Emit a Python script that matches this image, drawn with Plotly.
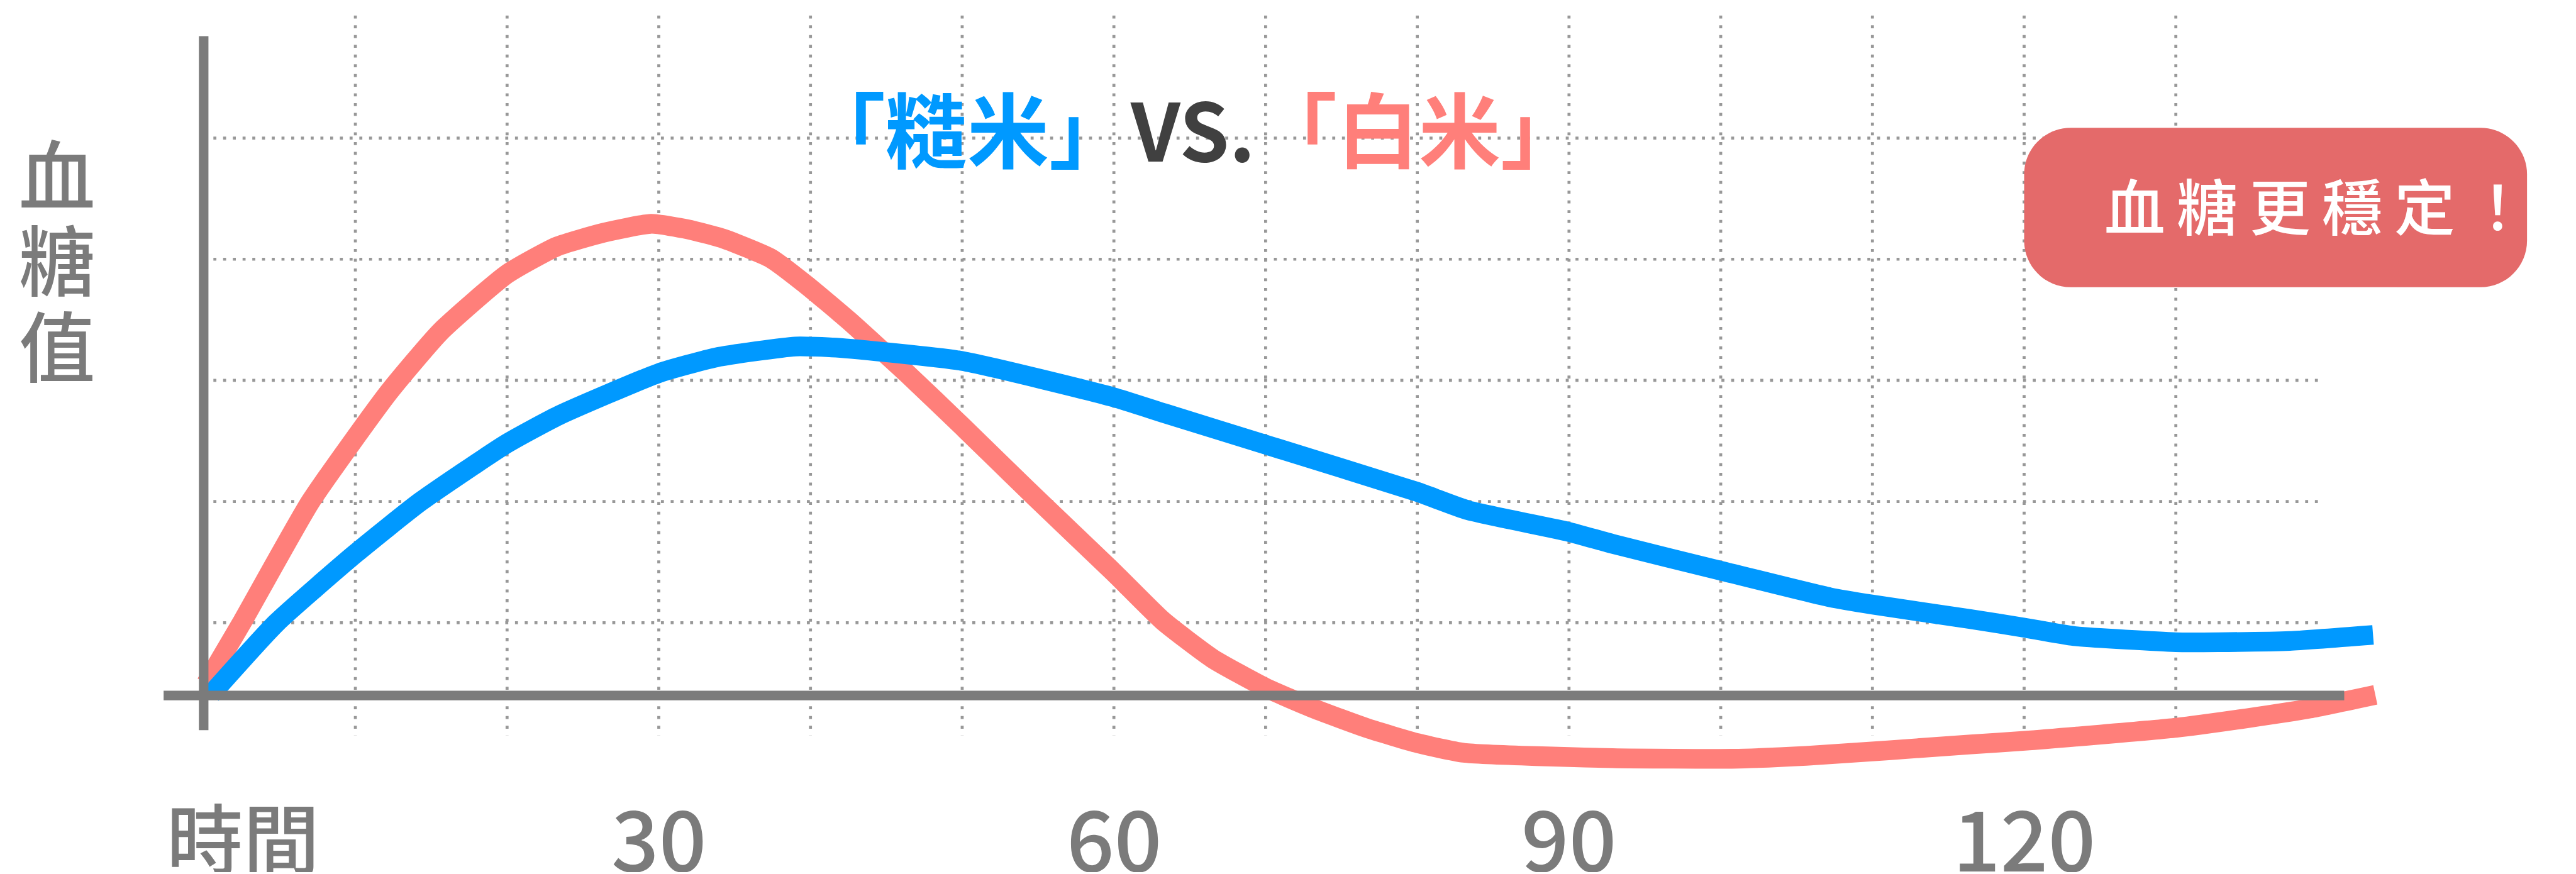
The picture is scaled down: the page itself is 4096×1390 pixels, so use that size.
import plotly.graph_objects as go

S = 0.949  # output scale

# ---------------- data (minutes, relative blood-sugar units) ----------------
white_x = [0.16, 2.56, 7.05, 12.2, 15.63, 20.0, 23.27, 26.34, 29.49, 31.89, 34.29, 37.4,
           39.72, 42.48, 46.42, 50.04, 54.69, 60.04, 63.23, 66.5, 70.0, 73.19, 76.73, 80.04,
           83.07, 92.87, 100.75, 105.63, 116.5, 120.04, 130.04, 134.72, 138.82, 143.15]
white_y = [0.99, 6.11, 16.01, 25.02, 30.05, 34.78, 37.04, 38.18, 38.92, 38.47, 37.68, 36.06,
           33.89, 30.99, 26.5, 22.17, 16.5, 10.1, 6.16, 3.05, 0.64, -1.08, -2.71, -3.94,
           -4.73, -5.17, -5.22, -4.98, -4.04, -3.74, -2.66, -1.87, -1.08, 0.05]

brown_x = [0.5, 4.8, 10.0, 14.3, 20.0, 23.4, 30.0, 33.8, 39.0, 41.7, 50.0, 60.0, 63.3, 70.0,
           80.0, 83.3, 90.0, 92.9, 100.0, 107.2, 110.0, 116.5, 120.0, 123.3, 130.0, 132.8,
           137.5, 143.0]
brown_y = [0.1, 6.0, 11.7, 16.0, 20.8, 23.1, 26.6, 27.9, 28.8, 28.7, 27.6, 24.6, 23.3, 20.7,
           16.8, 15.3, 13.5, 12.5, 10.3, 8.1, 7.5, 6.3, 5.6, 4.9, 4.4, 4.4,
           4.5, 5.0]

x_tick_vals = [30, 60, 90, 120]
x_tick_text = ["30", "60", "90", "120"]
grid_x = [10, 20, 30, 40, 50, 60, 70, 80, 90, 100, 110, 120, 130]
grid_y = [6, 16, 26, 36, 46]

title_brown = "「糙米」"
title_vs = "VS."
title_white = "「白米」"
y_label_chars = ["血", "糖", "值"]
x_label = "時間"
badge_text = "血糖更穩定！"

# ---------------- colours ----------------
BLUE = "#0099FF"
RED = "#FF7F7A"
GRAY = "#7B7B7B"
GRID = "#989898"
BADGE = "#E46A6A"
DARK = "#404040"

CJK = "Noto Sans CJK TC"
CJK_JP = "Noto Sans CJK JP"

fig = go.Figure()
fig.add_trace(go.Scatter(x=white_x, y=white_y, mode="lines",
                         line=dict(color=RED, width=33 * S, shape="spline", smoothing=0.5),
                         hoverinfo="skip", showlegend=False))
fig.add_trace(go.Scatter(x=brown_x, y=brown_y, mode="lines",
                         line=dict(color=BLUE, width=33 * S, shape="spline", smoothing=0.5),
                         hoverinfo="skip", showlegend=False))

shapes = []
dot = dict(color=GRID, width=5 * S, dash=f"{5 * S:.2f}px,{11.3 * S:.2f}px")
for gx in grid_x:
    shapes.append(dict(type="line", layer="below", x0=gx, x1=gx, y0=56.1, y1=-3.3,
                       xref="x", yref="y", line=dot))
for gy in grid_y:
    shapes.append(dict(type="line", layer="below", x0=0, x1=139.6, y0=gy, y1=gy,
                       xref="x", yref="y", line=dot))

# axes
shapes.append(dict(type="line", layer="above", x0=-2.64, x1=141.1, y0=0, y1=0,
                   line=dict(color=GRAY, width=16 * S)))
shapes.append(dict(type="line", layer="above", x0=0, x1=0, y0=54.4, y1=-2.86,
                   line=dict(color=GRAY, width=16 * S)))

# badge (rounded rectangle)
bx0, bx1, by0, by1 = 120.0, 153.15, 33.69, 46.85
rx, ry = 78 / 25.4, 78 / 20.3
k = 0.5523
path = (f"M {bx0 + rx},{by1} L {bx1 - rx},{by1} "
        f"C {bx1 - rx + k * rx},{by1} {bx1},{by1 - ry + k * ry} {bx1},{by1 - ry} "
        f"L {bx1},{by0 + ry} "
        f"C {bx1},{by0 + ry - k * ry} {bx1 - rx + k * rx},{by0} {bx1 - rx},{by0} "
        f"L {bx0 + rx},{by0} "
        f"C {bx0 + rx - k * rx},{by0} {bx0},{by0 + ry - k * ry} {bx0},{by0 + ry} "
        f"L {bx0},{by1 - ry} "
        f"C {bx0},{by1 - ry + k * ry} {bx0 + rx - k * rx},{by1} {bx0 + rx},{by1} Z")
shapes.append(dict(type="path", layer="above", path=path, xref="x", yref="y",
                   fillcolor=BADGE, line=dict(width=0)))

annotations = []
# x tick labels
for xv, tx in zip(x_tick_vals, x_tick_text):
    annotations.append(dict(x=xv, y=-11.5, text=tx, showarrow=False, xanchor="center",
                            yanchor="middle", height=118, valign="middle",
                            font=dict(family=CJK, size=140 * S, color=GRAY, weight=500)))
annotations.append(dict(x=2.6, y=-11.5, text=x_label, showarrow=False, xanchor="center",
                        yanchor="middle", height=118, valign="middle",
                        font=dict(family=CJK, size=128 * S, color=GRAY, weight=500)))
# y label (vertical characters)
for ch, yy in zip(y_label_chars, [43.3, 36.2, 29.1]):
    annotations.append(dict(x=-9.69, y=yy, text=ch, showarrow=False, xanchor="center",
                            yanchor="middle", height=128, valign="middle",
                            font=dict(family=CJK, size=128 * S, color=GRAY, weight=500)))
# title
title_html = (f"<span style='color:{BLUE}'>{title_brown}</span>"
              f"<span style='color:{DARK};font-family:{CJK};font-size:{134 * S:.1f}px'>{title_vs}</span>"
              f"<span style='color:{RED}'>{title_white}</span>")
annotations.append(dict(x=65.2, y=47.0, text=title_html, showarrow=False, xanchor="center",
                        yanchor="middle",
                        font=dict(family=CJK_JP, size=137 * S, color=BLUE, weight=700)))
# badge text, one character per cell
badge_x0, badge_pitch = 127.3, 4.78
for i, ch in enumerate(badge_text):
    annotations.append(dict(x=badge_x0 + i * badge_pitch, y=40.6, text=ch, showarrow=False,
                            xanchor="center", yanchor="middle",
                            font=dict(family=CJK, size=102 * S, color="white", weight=500)))

fig.update_layout(
    width=4096, height=1390,
    margin=dict(l=0, r=0, t=0, b=0, pad=0),
    paper_bgcolor="white", plot_bgcolor="white",
    xaxis=dict(range=[-13.425, 156.378], visible=False, fixedrange=True),
    yaxis=dict(range=[-14.729, 57.389], visible=False, fixedrange=True),
    shapes=shapes, annotations=annotations, showlegend=False,
)

fig.write_html("out.html", config={"displayModeBar": False})
